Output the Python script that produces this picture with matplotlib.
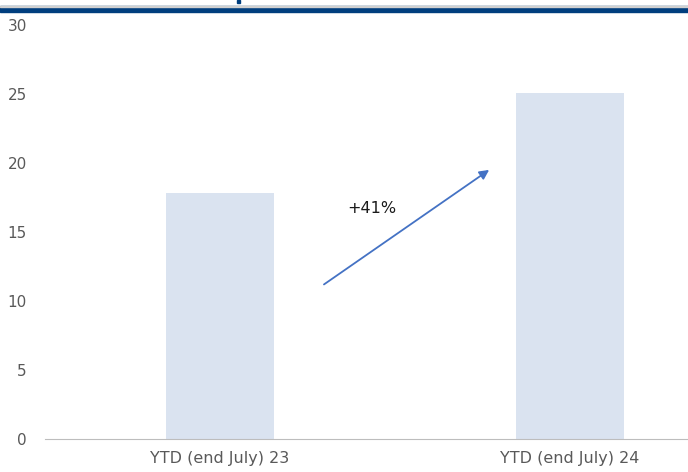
import matplotlib
matplotlib.use("Agg")
import matplotlib.pyplot as plt
from matplotlib.patches import Rectangle

# Data
categories = ["YTD (end July) 23", "YTD (end July) 24"]
values = [17.8, 25.1]
y_ticks = [0, 5, 10, 15, 20, 25, 30]
growth_label = "+41%"

BAR_COLOR = "#DAE3F0"
ARROW_COLOR = "#4472C4"
TEXT_COLOR = "#595959"
NAVY = "#003E7E"

plt.rcParams["font.family"] = ["DejaVu Sans"]

fig = plt.figure(figsize=(6.88, 4.72), dpi=100)
ax = fig.add_axes([45 / 688, 33 / 472, 700 / 688, 414 / 472])

x = list(range(len(categories)))
ax.bar(x, values, width=0.31, color=BAR_COLOR, zorder=2)

ax.set_xlim(-0.5, 1.5)
ax.set_ylim(0, 30)
ax.set_yticks(y_ticks)
ax.set_xticks(x)
ax.set_xticklabels(categories)

for side in ("top", "right", "left"):
    ax.spines[side].set_visible(False)
ax.spines["bottom"].set_color("#BDBDBD")
ax.spines["bottom"].set_linestyle((0, (1, 1)))
ax.spines["bottom"].set_linewidth(0.8)

ax.tick_params(axis="y", length=0, pad=13, labelsize=11, labelcolor=TEXT_COLOR)
ax.tick_params(axis="x", length=0, pad=9, labelsize=11.5, labelcolor=TEXT_COLOR)

# Growth arrow between the two periods
ax.annotate("", xy=(0.769, 19.5), xytext=(0.297, 11.2),
            arrowprops=dict(arrowstyle="-|>", color=ARROW_COLOR, lw=1.3,
                            mutation_scale=14, shrinkA=0, shrinkB=0),
            zorder=3)
ax.text(0.434, 16.7, growth_label, ha="center", va="center",
        fontsize=11.5, color="#1A1A1A")

# Header rule
fig.patches.append(Rectangle((0, 1 - 12 / 472), 1, 5.5 / 472,
                             transform=fig.transFigure, color=NAVY,
                             zorder=5))
fig.patches.append(Rectangle((0, 1 - 6.5 / 472), 1, 1 / 472,
                             transform=fig.transFigure, color="#D0D0D0",
                             zorder=5))
fig.patches.append(Rectangle((237 / 688, 1 - 3 / 472), 3 / 688, 3 / 472,
                             transform=fig.transFigure, color=NAVY,
                             zorder=5))

fig.savefig("out.png", dpi=100)
